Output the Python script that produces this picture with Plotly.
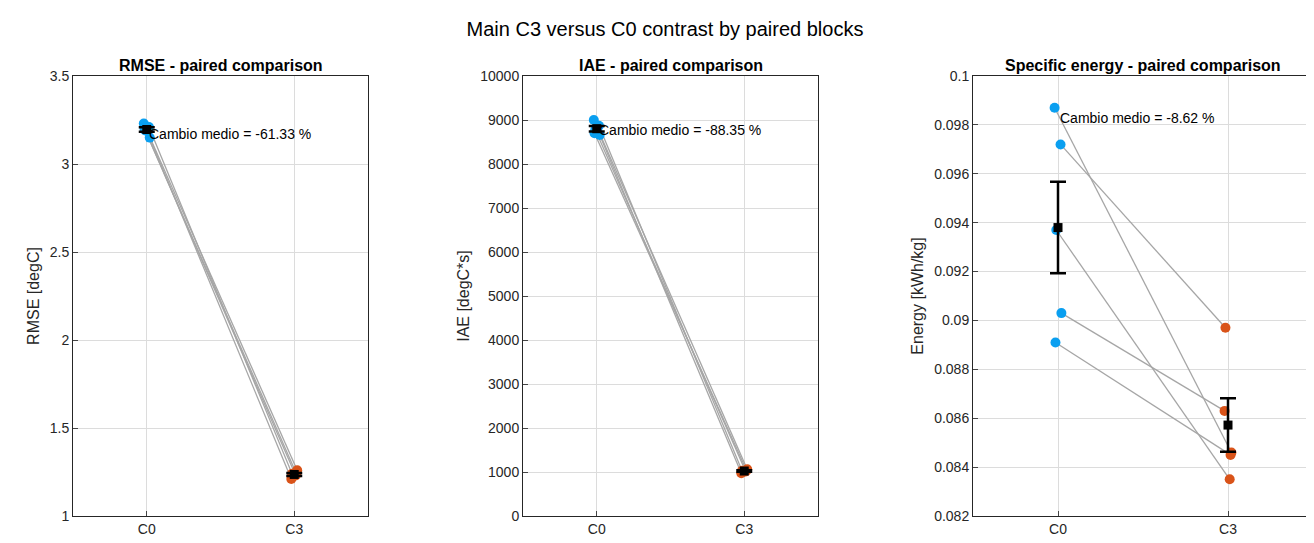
import numpy as np
import plotly.graph_objects as go
from plotly.subplots import make_subplots

conditions = ["C0", "C3"]
jitter_c0 = [-0.02, 0.015, -0.01, 0.02, -0.015]
jitter_c3 = [0.02, -0.015, 0.01, -0.02, 0.015]

rmse_c0 = [3.23, 3.21, 3.19, 3.15, 3.20]
rmse_c3 = [1.26, 1.24, 1.23, 1.21, 1.24]
iae_c0 = [9000, 8870, 8780, 8660, 8700]
iae_c3 = [1060, 1030, 1010, 970, 1040]
energy_c0 = [0.0987, 0.0972, 0.0937, 0.0903, 0.0891]
energy_c3 = [0.0846, 0.0897, 0.0835, 0.0863, 0.0845]

panels = [
    ("RMSE - paired comparison", "RMSE [degC]", rmse_c0, rmse_c3, "Cambio medio = -61.33 %",
     [1, 3.5], 0.5, None),
    ("IAE - paired comparison", "IAE [degC*s]", iae_c0, iae_c3, "Cambio medio = -88.35 %",
     [0, 10000], 1000, "d"),
    ("Specific energy - paired comparison", "Energy [kWh/kg]", energy_c0, energy_c3,
     "Cambio medio = -8.62 %", [0.082, 0.1], 0.002, "0.3~f"),
]

BLUE = "#0a9ff0"
ORANGE = "#d95319"
domains = [[65 / 1314, 360 / 1314], [515 / 1314, 810 / 1314], [965 / 1314, 1305 / 1314]]

fig = make_subplots(rows=1, cols=3)

for i, (title, ylab, c0, c3, note, yr, dt, fmt) in enumerate(panels):
    col = i + 1
    for k in range(len(c0)):
        fig.add_trace(go.Scatter(
            x=[1 + jitter_c0[k], 2 + jitter_c3[k]], y=[c0[k], c3[k]],
            mode="lines", line=dict(color="#a6a6a6", width=1.3),
            showlegend=False, hoverinfo="skip"), row=1, col=col)
    fig.add_trace(go.Scatter(
        x=[1 + j for j in jitter_c0], y=c0, mode="markers",
        marker=dict(color=BLUE, size=10), showlegend=False), row=1, col=col)
    fig.add_trace(go.Scatter(
        x=[2 + j for j in jitter_c3], y=c3, mode="markers",
        marker=dict(color=ORANGE, size=10), showlegend=False), row=1, col=col)
    means = [np.mean(c0), np.mean(c3)]
    sems = [np.std(c0, ddof=1) / np.sqrt(len(c0)), np.std(c3, ddof=1) / np.sqrt(len(c3))]
    fig.add_trace(go.Scatter(
        x=[1, 2], y=means, mode="markers",
        marker=dict(color="black", size=9, symbol="square"),
        error_y=dict(type="data", array=sems, color="black", thickness=2.5, width=8),
        showlegend=False), row=1, col=col)
    ax = "" if i == 0 else str(col)
    fig.add_annotation(x=1.0, y=max(c0), xref="x" + ax, yref="y" + ax, text=note,
                       showarrow=False, xanchor="left", yanchor="top",
                       font=dict(size=14, color="black"))
    fig.add_annotation(x=sum(domains[i]) / 2, y=1.0, xref="paper", yref="paper",
                       text="<b>" + title + "</b>", showarrow=False,
                       xanchor="center", yanchor="bottom",
                       font=dict(size=16, color="black"))
    fig.update_xaxes(domain=domains[i], range=[0.5, 2.5], tickvals=[1, 2],
                     ticktext=conditions, row=1, col=col)
    fig.update_yaxes(range=yr, dtick=dt, tickformat=fmt, title_text=ylab,
                     title_standoff=6, row=1, col=col)

fig.update_xaxes(showgrid=True, gridcolor="#dcdcdc", showline=True, linecolor="#262626",
                 mirror=True, ticks="inside", ticklen=5, zeroline=False,
                 tickfont=dict(size=14, color="#262626"))
fig.update_yaxes(showgrid=True, gridcolor="#dcdcdc", showline=True, linecolor="#262626",
                 mirror=True, ticks="inside", ticklen=5, zeroline=False,
                 tickfont=dict(size=14, color="#262626"),
                 title_font=dict(size=16, color="#262626"))

fig.update_layout(
    width=1314, height=543,
    title=dict(text="Main C3 versus C0 contrast by paired blocks", x=0.5, y=0.975,
               xanchor="center", font=dict(size=20, color="black")),
    font=dict(family="Liberation Sans, Arial, sans-serif"),
    plot_bgcolor="white", paper_bgcolor="white",
    margin=dict(l=0, r=0, t=68, b=35),
)

fig.write_html("out.html")
